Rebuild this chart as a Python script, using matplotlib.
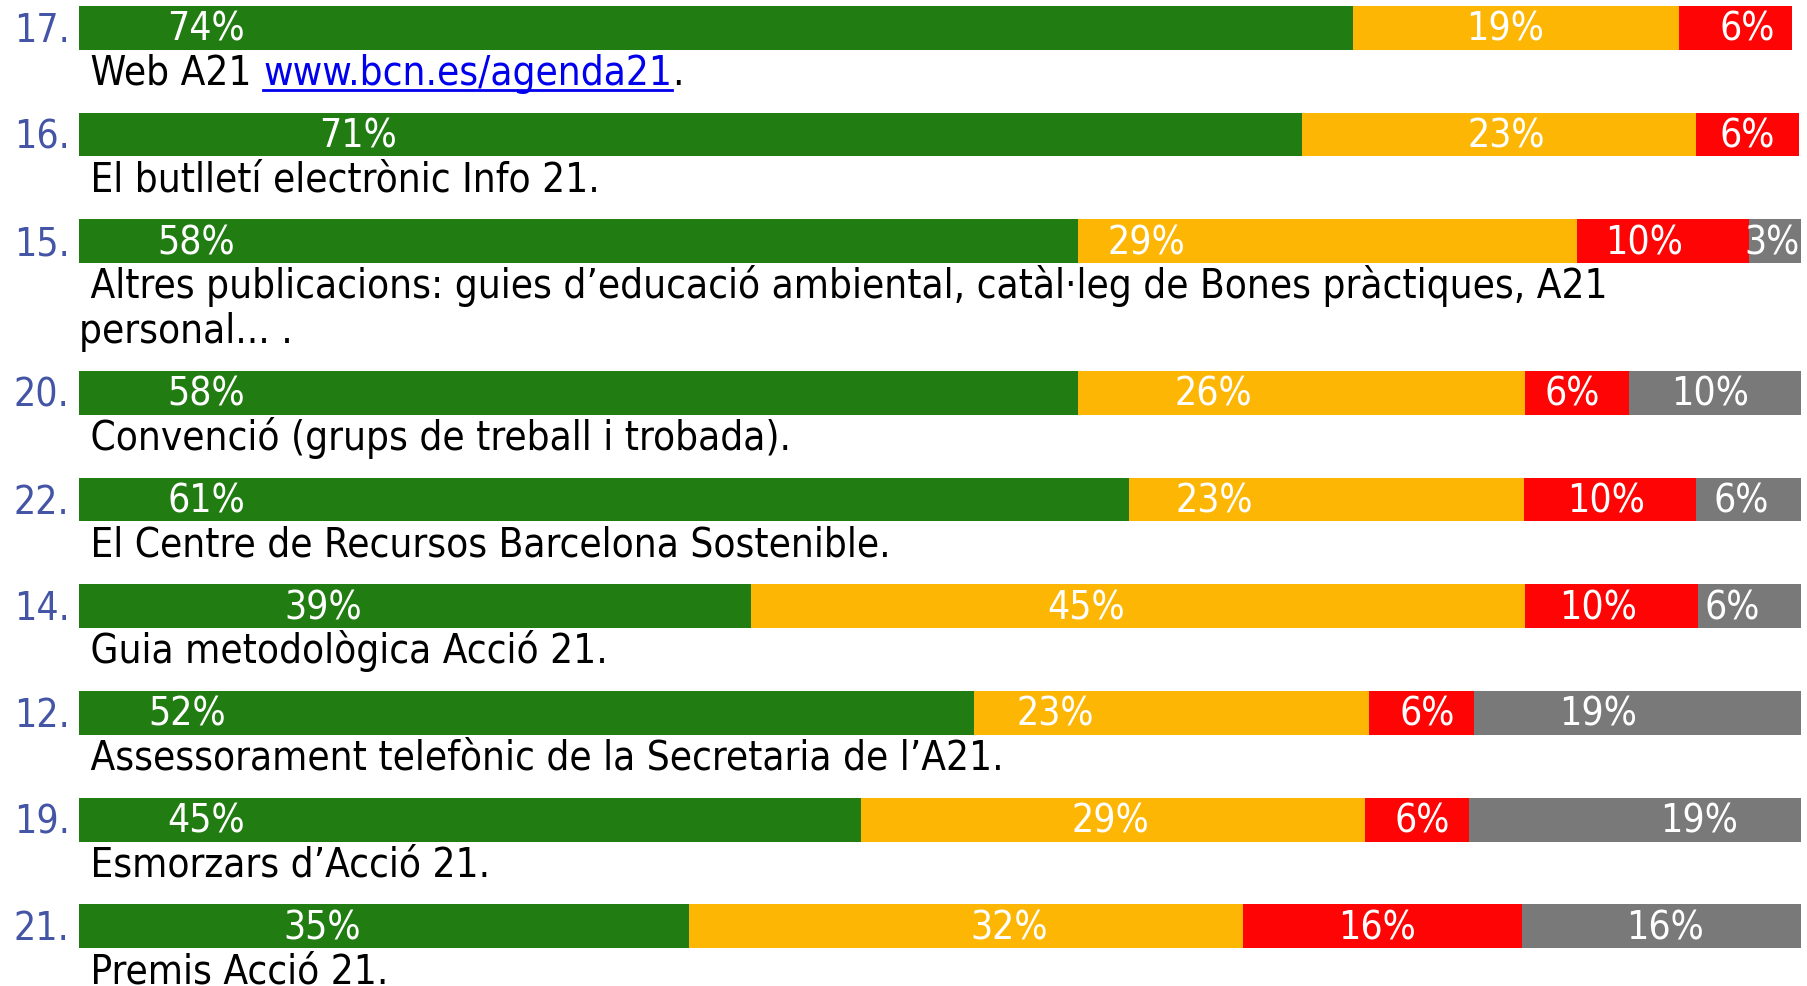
import matplotlib
matplotlib.use("Agg")
import matplotlib.pyplot as plt

# item number, description and segment widths (%)
numbers = ["17.", "16.", "15.", "20.", "22.", "14.", "12.", "19.", "21."]
descriptions = [
    [" Web A21 "],
    [" El butlletí electrònic Info 21."],
    [" Altres publicacions: guies d’educació ambiental, catàl·leg de Bones pràctiques, A21",
     "personal... ."],
    [" Convenció (grups de treball i trobada)."],
    [" El Centre de Recursos Barcelona Sostenible."],
    [" Guia metodològica Acció 21."],
    [" Assessorament telefònic de la Secretaria de l’A21."],
    [" Esmorzars d’Acció 21."],
    [" Premis Acció 21."],
]
link_text = "www.bcn.es/agenda21"

green = [74.0, 71.0, 58.0, 58.0, 61.0, 39.0, 52.0, 45.4, 35.4]
yellow = [18.9, 22.9, 29.0, 26.0, 22.9, 45.0, 22.9, 29.3, 32.2]
red = [6.6, 6.0, 10.0, 6.0, 10.0, 10.0, 6.1, 6.0, 16.2]
grey = [0.0, 0.0, 3.1, 10.0, 6.1, 6.1, 19.0, 19.3, 16.2]

green_lbl = ["74%", "71%", "58%", "58%", "61%", "39%", "52%", "45%", "35%"]
yellow_lbl = ["19%", "23%", "29%", "26%", "23%", "45%", "23%", "29%", "32%"]
red_lbl = ["6%", "6%", "10%", "6%", "10%", "10%", "6%", "6%", "16%"]
grey_lbl = ["", "", "3%", "10%", "6%", "6%", "19%", "19%", "16%"]

# where the original put each label along the bar (%)
green_at = [7.4, 16.2, 6.8, 7.4, 7.4, 14.2, 6.3, 7.4, 14.1]
yellow_at = [82.8, 82.9, 62.0, 65.9, 65.9, 58.5, 56.7, 59.9, 54.0]
red_at = [96.9, 96.9, 90.9, 86.7, 88.7, 88.2, 78.3, 78.0, 75.4]
grey_at = [0, 0, 98.3, 94.7, 96.5, 96.0, 88.2, 94.1, 92.1]

colors = ["#217d12", "#fdb604", "#fe0404", "#797979"]

W, H = 1807, 986
fig = plt.figure(figsize=(W / 100, H / 100), dpi=100)
x0, x1 = 79, 1801
ax = fig.add_axes([x0 / W, 0, (x1 - x0) / W, 1])
ax.set_xlim(0, 100)
ax.set_ylim(H, 0)
ax.axis("off")

bar_h = 43.8
pitch = 106.7
line_h = 45

font = dict(family="DejaVu Sans", stretch="condensed")
fs = 29

top = 5.8
for i in range(len(numbers)):
    yc = top + bar_h / 2
    left = 0
    segs = [(green[i], green_lbl[i], green_at[i]), (yellow[i], yellow_lbl[i], yellow_at[i]),
            (red[i], red_lbl[i], red_at[i]), (grey[i], grey_lbl[i], grey_at[i])]
    for (w, lbl, at), c in zip(segs, colors):
        if w > 0:
            ax.barh(yc, w, left=left, height=bar_h, color=c, linewidth=0)
            ax.text(at, yc + 2, lbl, color="white", fontsize=28, ha="center", va="center", **font)
        left += w
    ax.text(-0.55, yc + 3, numbers[i], color="#4455a5", fontsize=28, ha="right", va="center", **font)
    base = top + bar_h + 35
    for k, line in enumerate(descriptions[i]):
        t = ax.text(0, base + k * line_h, line, color="black", fontsize=fs,
                    ha="left", va="baseline", **font)
    if i == 0:
        lk = ax.annotate(link_text, xy=(1, 0), xycoords=t, va="bottom", ha="left",
                         color="#0000ee", fontsize=fs, **font)
        dot = ax.annotate(".", xy=(1, 0), xycoords=lk, va="bottom", ha="left",
                          color="black", fontsize=fs, **font)
        fig.canvas.draw()
        bb = lk.get_window_extent().transformed(ax.transData.inverted())
        ax.plot([bb.x0, bb.x1], [base + 5, base + 5], color="#0000ee", lw=2)
    top += pitch + (len(descriptions[i]) - 1) * line_h

fig.savefig("out.png", dpi=100)
